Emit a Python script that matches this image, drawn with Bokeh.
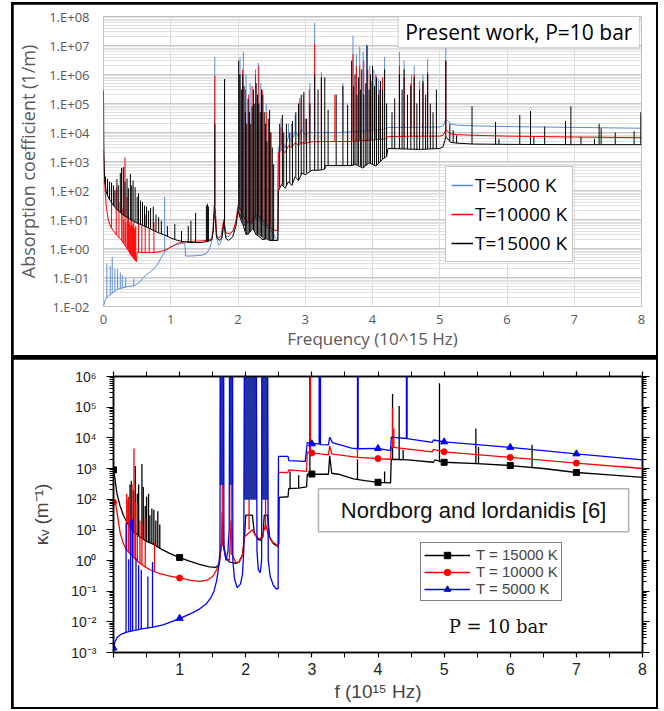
from bokeh.plotting import figure
from bokeh.layouts import column
from bokeh.models import (Range1d, FixedTicker, CustomJSTickFormatter, LinearAxis, LogAxis,
                          Legend, LegendItem, BoxAnnotation, Label)
from bokeh.embed import file_html
from bokeh.resources import INLINE

# ======================= DATA =======================
FREQ_TICKS = [0, 1, 2, 3, 4, 5, 6, 7, 8]
TOP_DECADES = [-2, -1, 0, 1, 2, 3, 4, 5, 6, 7, 8]
BOT_DECADES = [-3, -2, -1, 0, 1, 2, 3, 4, 5, 6]

# ---- top panel (present work), continuum (f [1e15 Hz], k [1/m]) ----
TOP_CONT_5000 = [
    (0.00, 1.0e-2), (0.02, 1.6e-2), (0.06, 2.2e-2), (0.12, 2.8e-2), (0.22, 4.0e-2), (0.35, 4.8e-2),
    (0.47, 5.3e-2), (0.55, 7.5e-2), (0.62, 1.15e-1), (0.70, 1.6e-1), (0.77, 2.2e-1), (0.82, 3.3e-1),
    (0.87, 5.5e-1), (0.92, 8.0e-1), (0.96, 1.0), (1.05, 1.3), (1.16, 1.5), (1.21, 1.5), (1.22, 0.55),
    (1.30, 0.55), (1.40, 0.57), (1.48, 0.60), (1.54, 0.72), (1.58, 1.0), (1.61, 1.8), (1.63, 4.0),
    (1.645, 20), (1.665, 15), (1.68, 2.5), (1.71, 1.3), (1.74, 1.5), (1.77, 3.0), (1.79, 8), (1.82, 2.5),
    (1.86, 2.6), (1.92, 4.0), (1.97, 8), (2.00, 20), (2.05, 12), (2.10, 6), (2.15, 9), (2.20, 7),
    (2.25, 10), (2.30, 12), (2.35, 8), (2.40, 6), (2.45, 5), (2.50, 4), (2.55, 2.5), (2.585, 2.0),
    (2.60, 3.0e3), (2.65, 4.5e3), (2.70, 3.0e3), (2.75, 7e3), (2.80, 5e3), (2.85, 1.1e4), (2.90, 7e3),
    (2.95, 1.3e4), (3.00, 8e3), (3.05, 1.0e4), (3.20, 1.0e4), (3.45, 1.0e4), (3.70, 1.05e4),
    (3.80, 1.1e4), (4.00, 1.2e4), (4.18, 1.3e4), (4.23, 1.5e4), (4.60, 1.5e4), (5.00, 1.55e4),
    (5.05, 1.7e4), (5.09, 2.8e4), (5.12, 2.5e4), (5.16, 2.0e4), (5.25, 1.8e4), (5.50, 1.7e4),
    (6.00, 1.6e4), (7.00, 1.5e4), (8.00, 1.4e4)]
TOP_LINES_5000 = [  # (f, base, peak)
    (0.05, 0.02, 0.3), (0.10, 0.026, 0.25), (0.13, 0.029, 0.5), (0.17, 0.034, 0.2), (0.21, 0.04, 0.2),
    (0.25, 0.043, 0.15), (0.28, 0.045, 0.12), (0.33, 0.047, 0.1), (0.45, 0.053, 0.09), (0.91, 0.75, 60),
    (1.655, 20, 4e6), (1.80, 8, 6e5), (2.03, 20, 4e6), (2.08, 12, 6e6), (2.12, 8, 1e6), (2.18, 8, 5e5),
    (2.26, 10, 1.5e6), (2.30, 12, 2.5e6), (2.34, 8, 5e5), (2.42, 6, 1e5), (2.64, 4.5e3, 3e4),
    (2.75, 7e3, 2e4), (2.85, 1.1e4, 4e4), (2.97, 1.3e4, 2e5), (3.07, 1.0e4, 5e5), (3.14, 1.0e4, 6e7),
    (3.24, 1.0e4, 1.2e6), (3.56, 1.0e4, 5e5), (3.71, 1.05e4, 2.2e7), (3.76, 1.1e4, 5e6),
    (3.81, 1.1e4, 9e6), (3.86, 1.1e4, 6e6), (3.91, 1.15e4, 1.1e7), (3.96, 1.2e4, 2e6),
    (4.02, 1.2e4, 1.5e6), (4.09, 1.25e4, 7e5), (4.18, 1.3e4, 4e6), (4.40, 1.5e4, 6e6),
    (4.47, 1.5e4, 3e6), (4.58, 1.5e4, 1e6), (4.62, 1.5e4, 2e6), (4.70, 1.5e4, 6e5), (4.75, 1.5e4, 1e6),
    (4.82, 1.5e4, 3.5e6), (5.09, 2.8e4, 8e6)]

TOP_CONT_10000 = [
    (0.00, 2.4e3), (0.01, 5e2), (0.02, 1.5e2), (0.04, 30), (0.07, 10), (0.10, 6), (0.15, 4), (0.20, 2.8),
    (0.25, 2.2), (0.30, 1.5), (0.35, 1.0), (0.40, 0.65), (0.45, 0.45), (0.49, 0.35), (0.50, 0.75),
    (0.60, 0.72), (0.70, 0.72), (0.80, 0.75), (0.90, 0.85), (1.00, 1.1), (1.10, 1.5), (1.20, 1.7),
    (1.40, 1.8), (1.55, 1.9), (1.61, 2.2), (1.63, 4), (1.645, 30), (1.665, 20), (1.68, 3), (1.71, 2.3),
    (1.75, 2.8), (1.79, 10), (1.82, 3.5), (1.87, 3.2), (1.93, 4), (1.97, 9), (2.00, 30), (2.05, 20),
    (2.10, 10), (2.15, 8), (2.20, 8), (2.25, 12), (2.30, 15), (2.35, 10), (2.40, 8), (2.45, 6),
    (2.50, 5), (2.55, 4.2), (2.595, 4.2), (2.60, 2.0e3), (2.65, 2.5e3), (2.70, 2.0e3), (2.75, 3.5e3),
    (2.80, 3.0e3), (2.85, 4.5e3), (2.90, 3.5e3), (2.95, 4.5e3), (3.00, 4.2e3), (3.10, 4.8e3),
    (3.30, 4.9e3), (3.70, 4.9e3), (3.80, 5.2e3), (4.00, 5.5e3), (4.18, 6e3), (4.23, 7.2e3),
    (4.60, 7.4e3), (5.00, 7.5e3), (5.05, 8e3), (5.09, 1.2e4), (5.12, 1.1e4), (5.16, 9e3),
    (5.25, 8.5e3), (5.50, 8e3), (6.00, 7.5e3), (7.00, 7.0e3), (8.00, 6.6e3)]
TOP_LINES_10000 = [
    (0.12, 5, 150), (0.19, 3, 120), (0.23, 2.4, 40), (0.27, 2, 600), (0.29, 1.6, 25), (0.32, 1.4, 1.4e3),
    (0.35, 1.0, 60), (0.37, 0.9, 12), (0.39, 0.7, 8), (0.41, 0.62, 10), (0.43, 0.55, 6), (0.45, 0.45, 8),
    (0.47, 0.4, 5), (0.30, 1.5, 10), (0.33, 1.2, 8), (0.36, 0.95, 9), (0.38, 0.8, 7), (0.40, 0.65, 6),
    (0.42, 0.58, 9), (0.44, 0.5, 7), (0.46, 0.42, 5), (0.48, 0.37, 6), (0.52, 0.75, 20), (0.57, 0.73, 6),
    (0.62, 0.72, 15), (0.68, 0.72, 5), (0.75, 0.74, 8), (1.655, 30, 9e5), (1.80, 10, 6e5),
    (2.02, 30, 1e6), (2.07, 20, 1.5e6), (2.11, 10, 3e5), (2.16, 8, 2e5), (2.21, 8, 4e5),
    (2.26, 12, 1e6), (2.31, 15, 2e6), (2.36, 10, 3e5), (2.42, 8, 5e4), (2.48, 6, 1e4),
    (2.64, 2.5e3, 1.5e4), (2.72, 2e3, 8e3), (2.80, 3e3, 2e4), (2.92, 4e3, 1.5e5), (3.00, 4.2e3, 3e4),
    (3.06, 4.5e3, 3e5), (3.14, 4.8e3, 1.2e7), (3.24, 4.9e3, 5e5), (3.44, 4.9e3, 2e5),
    (3.71, 4.9e3, 5e6), (3.76, 5e3, 2e6), (3.81, 5.2e3, 2e6), (3.87, 5.3e3, 3e6), (3.93, 5.4e3, 1.5e6),
    (3.99, 5.5e3, 6e5), (4.05, 5.7e3, 1e6), (4.10, 5.8e3, 3e5), (4.15, 6e3, 8e5), (4.40, 7.3e3, 2e6),
    (4.47, 7.3e3, 8e5), (4.57, 7.4e3, 5e5), (4.62, 7.4e3, 1e6), (4.75, 7.4e3, 5e5),
    (4.82, 7.5e3, 1.2e6), (5.09, 1.2e4, 3e6)]

TOP_CONT_15000 = [
    (0.000, 2.8e5), (0.004, 5e3), (0.01, 6e2), (0.02, 2e2), (0.04, 90), (0.07, 60), (0.10, 45),
    (0.15, 30), (0.20, 22), (0.30, 14), (0.40, 10), (0.50, 7.5), (0.64, 5.5), (0.80, 3.6), (0.90, 3.0),
    (1.00, 2.3), (1.10, 1.9), (1.20, 1.7), (1.30, 1.6), (1.45, 1.6), (1.55, 1.75), (1.61, 2.0),
    (1.63, 4), (1.645, 15), (1.665, 10), (1.68, 2.5), (1.72, 1.9), (1.76, 2.3), (1.79, 8), (1.82, 2.2),
    (1.86, 1.9), (1.92, 2.5), (1.97, 6), (2.00, 20), (2.04, 10), (2.08, 6), (2.12, 3), (2.17, 3.5),
    (2.22, 5), (2.27, 3), (2.32, 2.5), (2.37, 2.0), (2.42, 2.2), (2.47, 1.9), (2.52, 1.9),
    (2.595, 1.9), (2.60, 1.0e2), (2.65, 1.6e2), (2.70, 1.2e2), (2.75, 2e2), (2.80, 1.5e2),
    (2.85, 3e2), (2.90, 2.2e2), (2.95, 4e2), (3.00, 3.5e2), (3.10, 5e2), (3.20, 5e2), (3.29, 5.5e2),
    (3.30, 7.2e2), (3.68, 7.2e2), (3.75, 8e2), (3.85, 6e2), (3.95, 9e2), (4.05, 7e2), (4.15, 1.2e3),
    (4.21, 1.5e3), (4.23, 2.8e3), (4.50, 2.7e3), (4.70, 2.6e3), (5.00, 2.8e3), (5.05, 3.2e3),
    (5.09, 7e3), (5.12, 6e3), (5.16, 4.6e3), (5.25, 4.3e3), (5.50, 4e3), (6.00, 3.9e3),
    (7.00, 3.8e3), (8.00, 3.8e3)]
TOP_LINES_15000 = [
    (0.03, 120, 300), (0.06, 65, 250), (0.09, 48, 200), (0.12, 38, 190), (0.15, 30, 150), (0.17, 27, 100),
    (0.20, 22, 250), (0.22, 20, 150), (0.25, 17, 400), (0.27, 16, 600), (0.30, 14, 650), (0.32, 13, 200),
    (0.35, 12, 260), (0.37, 11, 120), (0.40, 10, 370), (0.42, 9.5, 150), (0.44, 9, 220), (0.47, 8, 130),
    (0.50, 7.5, 60), (0.52, 7.2, 80), (0.55, 6.8, 45), (0.58, 6.3, 40), (0.61, 5.9, 30), (0.64, 5.5, 28),
    (0.67, 5.1, 20), (0.70, 4.7, 25), (0.74, 4.2, 28), (0.78, 3.8, 15), (0.82, 3.5, 12), (0.86, 3.2, 9),
    (0.95, 2.6, 6), (1.06, 2.0, 7), (1.16, 1.8, 4), (1.26, 1.6, 6), (1.30, 1.6, 9), (1.37, 1.6, 17),
    (1.53, 1.7, 30), (1.545, 1.7, 35), (1.56, 1.75, 28), (1.655, 15, 2e4), (1.80, 8, 7e5),
    (2.01, 20, 3e6), (2.03, 12, 1e6), (2.05, 10, 3e5), (2.07, 8, 1e6), (2.09, 6, 4e5), (2.11, 4, 5e4),
    (2.13, 3, 2e4), (2.15, 3, 1.5e5), (2.17, 3.5, 5e4), (2.19, 4, 2e4), (2.21, 5, 8e4), (2.23, 4.5, 3e5),
    (2.25, 4, 1e5), (2.27, 3, 5e5), (2.29, 3, 2e5), (2.31, 2.8, 1e5), (2.33, 2.6, 5e4), (2.35, 2.5, 3e5),
    (2.37, 2.2, 2e5), (2.39, 2.1, 5e4), (2.41, 2.1, 2e4), (2.43, 2.2, 5e3), (2.45, 2.1, 3e4),
    (2.47, 1.9, 6e4), (2.49, 1.9, 1e4), (2.51, 1.9, 3e3), (2.53, 1.9, 8e2), (2.62, 1.3e2, 2e4),
    (2.66, 1.6e2, 4e4), (2.68, 1.4e2, 1e4), (2.72, 1.4e2, 2e4), (2.77, 1.8e2, 1e4), (2.81, 1.6e2, 2.5e4),
    (2.86, 3e2, 5e4), (2.90, 2.2e2, 1e5), (2.94, 3.5e2, 2e5), (2.98, 3.8e2, 2.5e5), (3.02, 4e2, 3e4),
    (3.07, 4.5e2, 1e5), (3.14, 5e2, 1e6), (3.19, 5e2, 3e5), (3.24, 5e2, 8e5), (3.29, 5.5e2, 8e5),
    (3.34, 7.2e2, 6e4), (3.46, 7.2e2, 2e5), (3.56, 7.2e2, 4e5), (3.63, 7.2e2, 9e4), (3.69, 7.2e2, 3e6),
    (3.72, 7.5e2, 4e5), (3.74, 7.8e2, 1e6), (3.77, 8e2, 2e5), (3.79, 7.5e2, 8e5), (3.82, 7e2, 3e5),
    (3.84, 6.5e2, 1.5e6), (3.87, 6e2, 2e5), (3.90, 7e2, 5e5), (3.92, 8e2, 1e7), (3.95, 9e2, 3e5),
    (3.97, 8.5e2, 1e6), (4.00, 8e2, 2e6), (4.03, 7.5e2, 4e5), (4.06, 7.5e2, 8e5), (4.09, 9e2, 2e5),
    (4.12, 1.0e3, 6e5), (4.15, 1.2e3, 3e5), (4.18, 1.3e3, 1.5e6), (4.21, 1.5e3, 1e5),
    (4.29, 2.8e3, 5e4), (4.33, 2.8e3, 1.5e5), (4.40, 2.7e3, 1e6), (4.44, 2.7e3, 3e5),
    (4.47, 2.7e3, 1.5e6), (4.52, 2.7e3, 2e5), (4.57, 2.6e3, 4e5), (4.62, 2.6e3, 8e5),
    (4.66, 2.6e3, 1e5), (4.70, 2.6e3, 3e5), (4.75, 2.6e3, 6e5), (4.79, 2.7e3, 2e5), (4.82, 2.7e3, 1e6),
    (4.86, 2.7e3, 1e5), (4.90, 2.7e3, 5e4), (4.95, 2.8e3, 3e5), (5.09, 7e3, 3e6), (5.15, 5e3, 2e4),
    (5.20, 4.5e3, 1.2e4), (5.25, 4.3e3, 8e3), (5.48, 4e3, 8e4), (5.83, 3.9e3, 2.3e4),
    (5.88, 3.9e3, 6e3), (6.19, 3.9e3, 4e4), (6.35, 3.9e3, 5.5e4), (6.40, 3.9e3, 7e3),
    (6.56, 3.8e3, 1.6e4), (6.87, 3.8e3, 2.5e4), (6.95, 3.8e3, 8e4), (7.10, 3.8e3, 7e3),
    (7.30, 3.8e3, 6e3), (7.37, 3.8e3, 2e4), (7.40, 3.8e3, 1.4e4), (7.61, 3.8e3, 1e4),
    (7.89, 3.8e3, 1.1e4), (7.99, 3.8e3, 5e4)]

# ---- bottom panel (Nordborg and Iordanidis) ----
BOT_CONT_15000 = [
    (0.00, 9e2), (0.02, 5e2), (0.05, 1.6e2), (0.10, 60), (0.15, 30), (0.20, 18), (0.28, 10), (0.38, 6.3),
    (0.50, 4.2), (0.60, 3.4), (0.73, 2.3), (0.85, 1.7), (1.00, 1.25), (1.15, 0.95), (1.30, 0.75),
    (1.45, 0.62), (1.55, 0.6), (1.60, 0.75), (1.62, 2), (1.64, 5), (1.66, 3), (1.70, 1.2), (1.75, 0.9),
    (1.80, 0.85), (1.85, 0.8), (1.90, 0.9), (1.95, 1.5), (1.98, 5), (2.00, 30), (2.10, 30), (2.13, 8),
    (2.18, 5), (2.22, 4.5), (2.26, 6), (2.28, 30), (2.33, 30), (2.36, 6), (2.42, 3.5), (2.47, 3.0),
    (2.50, 3.5), (2.505, 1.15e2), (2.64, 1.2e2), (2.65, 2.2e2), (2.80, 2.3e2), (2.92, 2.5e2),
    (2.93, 6.5e2), (3.13, 6.6e2), (3.25, 6.5e2), (3.27, 2.6e3), (3.30, 7e2), (3.40, 6.5e2),
    (3.63, 4.6e2), (3.80, 4.0e2), (4.00, 3.55e2), (4.19, 3.4e2), (4.20, 2.0e3), (4.45, 1.9e3),
    (4.84, 1.6e3), (4.86, 1.9e3), (5.00, 1.6e3), (5.50, 1.45e3), (6.00, 1.25e3), (6.50, 1.0e3),
    (7.00, 7.4e2), (7.50, 6.2e2), (8.00, 5.1e2)]
BOT_LINES_15000 = [
    (0.22, 15, 100), (0.25, 12, 300), (0.27, 11, 400), (0.30, 9, 200), (0.33, 8, 1.2e3), (0.36, 7, 150),
    (0.38, 6.3, 300), (0.43, 5.4, 1.4e3), (0.45, 5, 250), (0.48, 4.6, 60), (0.50, 4.2, 120),
    (0.53, 4.0, 150), (0.55, 3.8, 30), (0.58, 3.5, 50), (0.61, 3.3, 45), (0.64, 3.0, 20),
    (0.67, 2.8, 40), (0.70, 2.5, 15), (2.67, 2.2e2, 8e2), (2.80, 2.3e2, 6e2), (2.97, 6.5e2, 1e7),
    (3.69, 4.5e2, 2e3), (4.10, 3.5e2, 8e2), (4.22, 2.0e3, 2.7e5), (4.32, 2.0e3, 1.1e5),
    (4.38, 2.0e3, 4e3), (4.93, 1.6e3, 6e5), (5.48, 1.45e3, 2e4), (5.52, 1.45e3, 5e3),
    (6.33, 1.1e3, 6e3)]

BOT_CONT_10000 = [
    (0.00, 80), (0.03, 75), (0.06, 30), (0.10, 8), (0.15, 3.5), (0.20, 2.2), (0.30, 1.3), (0.40, 0.8),
    (0.55, 0.5), (0.70, 0.37), (0.85, 0.31), (1.00, 0.27), (1.15, 0.23), (1.30, 0.21), (1.42, 0.23),
    (1.50, 0.3), (1.56, 0.5), (1.60, 0.9), (1.63, 3), (1.645, 40), (1.67, 3), (1.70, 1.2), (1.75, 1.0),
    (1.78, 20), (1.80, 1.5), (1.85, 0.85), (1.90, 0.9), (1.95, 1.5), (1.98, 6), (2.10, 10), (2.14, 7),
    (2.20, 5), (2.25, 6), (2.30, 15), (2.35, 6), (2.40, 4), (2.45, 3.5), (2.49, 2.8), (2.495, 7.4e2),
    (2.64, 7.5e2), (2.65, 9e2), (2.92, 8e2), (2.93, 3.5e3), (2.97, 3.3e3), (3.13, 3.0e3),
    (3.25, 2.8e3), (3.27, 5.5e3), (3.30, 3.0e3), (3.69, 2.3e3), (4.00, 2.1e3), (4.19, 2.0e3),
    (4.20, 5.0e3), (4.82, 3.5e3), (4.84, 4.2e3), (5.00, 3.5e3), (6.00, 2.3e3), (7.00, 1.5e3),
    (8.00, 1.0e3)]
BOT_LINES_10000 = [
    (0.20, 2.2, 150), (0.23, 1.8, 120), (0.25, 1.6, 25), (0.28, 1.4, 300), (0.31, 1.25, 4.5e3),
    (0.33, 1.1, 80), (0.36, 0.95, 80), (0.40, 0.8, 20), (0.43, 0.7, 15), (0.48, 0.6, 25),
    (0.62, 0.42, 4), (1.645, 3, 2e5), (1.78, 1.5, 5e4), (2.05, 10, 1e6), (2.30, 10, 1e5),
    (2.98, 3.3e3, 1e7), (3.69, 2.3e3, 5e3), (4.22, 5e3, 9e4), (4.24, 5e3, 2e4)]

BOT_CONT_5000 = [
    (0.00, 1.4e-3), (0.02, 2.2e-3), (0.06, 3.2e-3), (0.12, 4.0e-3), (0.20, 4.6e-3), (0.30, 5.2e-3),
    (0.45, 6.0e-3), (0.60, 6.7e-3), (0.75, 8.0e-3), (0.90, 1.05e-2), (1.00, 1.3e-2), (1.10, 1.6e-2),
    (1.20, 2.0e-2), (1.30, 2.6e-2), (1.40, 3.8e-2), (1.47, 6.0e-2), (1.52, 1.0e-1), (1.56, 2.2e-1),
    (1.59, 6e-1), (1.61, 2.0), (1.615, 1e7), (1.665, 1e7), (1.67, 3), (1.70, 1.0), (1.73, 2.0),
    (1.75, 10), (1.755, 1e7), (1.80, 1e7), (1.805, 1.0), (1.83, 0.25), (1.87, 0.13), (1.92, 0.17),
    (1.95, 0.35), (1.97, 2.0), (1.98, 1e7), (2.16, 1e7), (2.17, 2.0), (2.19, 0.5), (2.22, 0.4),
    (2.24, 1.0), (2.245, 1e7), (2.33, 1e7), (2.34, 1.0), (2.37, 0.3), (2.42, 0.15), (2.46, 0.12),
    (2.49, 0.12), (2.495, 2.5e3), (2.64, 2.5e3), (2.65, 1.8e3), (2.90, 1.7e3), (2.93, 7e3),
    (3.11, 6.2e3), (3.11, 1e7), (3.13, 1e7), (3.13, 6e3), (3.25, 5.9e3), (3.27, 1.05e4), (3.31, 7e3),
    (3.60, 4.6e3), (3.69, 4.4e3), (3.69, 1e7), (3.70, 1e7), (3.70, 4.4e3), (4.00, 4.5e3),
    (4.19, 3.8e3), (4.20, 1.05e4), (4.43, 9.5e3), (4.43, 1e7), (4.44, 1e7), (4.44, 9.4e3),
    (4.82, 7.1e3), (4.84, 8.5e3), (5.00, 7.4e3), (6.00, 4.9e3), (7.00, 3.0e3), (8.00, 1.9e3)]
BOT_LINES_5000 = [
    (0.19, 4.5e-3, 17), (0.23, 4.8e-3, 1.1), (0.26, 5.0e-3, 20), (0.29, 5.2e-3, 22), (0.34, 5.5e-3, 1.2),
    (0.38, 5.7e-3, 0.7), (0.42, 5.8e-3, 0.5), (0.52, 6.2e-3, 0.3), (0.59, 6.6e-3, 0.9)]
BOT_BANDS_5000 = [  # (f start, f end, lower edge of the dense-line block)
    (1.615, 1.665, 3e2), (1.755, 1.80, 3e2), (1.98, 2.16, 1e2), (2.245, 2.33, 1e2)]

# markers (f, k)
BOT_MARK_15000 = [(0, 9e2), (1, 1.25), (3, 6.6e2), (4, 3.55e2), (5, 1.6e3), (6, 1.25e3), (7, 7.4e2)]
BOT_MARK_10000 = [(0, 80), (1, 0.27), (3, 3.2e3), (4, 2.1e3), (5, 3.5e3), (6, 2.3e3), (7, 1.5e3)]
BOT_MARK_5000 = [(0, 1.4e-3), (1, 1.3e-2), (3, 6.4e3), (4, 4.5e3), (5, 7.4e3), (6, 4.9e3), (7, 3.0e3)]

# ======================= helpers =======================
NAN = float("nan")

def split2(pairs):
    a, b = zip(*pairs)
    return list(a), list(b)

def split3(trip):
    a, b, c = zip(*trip)
    return list(a), list(b), list(c)

def draw(p, cont, lines, color, lw):
    f, k = split2(cont)
    r = p.line(f, k, line_color=color, line_width=lw)
    lf, lb, lp = split3(lines)
    p.segment(x0=lf, y0=lb, x1=lf, y1=lp, line_color=color, line_width=lw)
    return r

EXCEL_FMT = CustomJSTickFormatter(code="""
const e = Math.round(Math.log10(tick));
const a = Math.abs(e);
return '1.E' + (e < 0 ? '-' : '+') + (a < 10 ? '0' : '') + a;
""")
SUP_FMT = CustomJSTickFormatter(code="""
const sup = {'-':'\\u207B','0':'\\u2070','1':'\\u00B9','2':'\\u00B2','3':'\\u00B3','4':'\\u2074',
             '5':'\\u2075','6':'\\u2076','7':'\\u2077','8':'\\u2078','9':'\\u2079'};
const e = Math.round(Math.log10(tick));
return '10' + String(e).split('').map(c => sup[c]).join('');
""")
BLANK_FMT = CustomJSTickFormatter(code="return '';")

# ======================= TOP PANEL =======================
GRAY = "#595959"
FONT_T = "Open Sans"
W1, H1 = 643, 351
p1 = figure(width=W1, height=H1, y_axis_type="log", x_range=Range1d(0, 8),
            y_range=Range1d(1e-2, 1e8), output_backend="svg", toolbar_location=None,
            min_border_left=89, min_border_right=15, min_border_top=12, min_border_bottom=49)
p1.outline_line_color = None
p1.border_fill_color = "white"

top_major = [10.0 ** e for e in TOP_DECADES]
top_minor = [m * 10.0 ** e for e in TOP_DECADES[:-1] for m in range(2, 10)]
p1.yaxis.ticker = FixedTicker(ticks=top_major, minor_ticks=top_minor)
p1.yaxis.formatter = EXCEL_FMT
p1.xaxis.ticker = FixedTicker(ticks=FREQ_TICKS)
p1.xgrid.grid_line_color = "#d9d9d9"
p1.ygrid.grid_line_color = "#c8c8c8"
p1.ygrid.minor_grid_line_color = "#e0e0e0"
ax_l, ax_b = p1.left[0], p1.below[0]
for ax in (ax_l, ax_b):
    ax.axis_line_color = None
    ax.major_tick_line_color = None
    ax.minor_tick_line_color = None
    ax.major_tick_out = 0
    ax.minor_tick_out = 0
    ax.major_label_text_font = FONT_T
    ax.major_label_text_font_size = "13px"
    ax.major_label_text_color = GRAY
    ax.axis_label_text_font = FONT_T
    ax.axis_label_text_font_style = "normal"
    ax.axis_label_text_color = GRAY
ax_l.axis_label = "Absorption coefficient (1/m)"
ax_l.axis_label_text_font_size = "18px"
ax_l.major_label_standoff = 14
ax_l.axis_label_standoff = 6
ax_b.axis_label = "Frequency (10^15 Hz)"
ax_b.axis_label_text_font_size = "17px"
ax_b.major_label_standoff = 8
ax_b.axis_label_standoff = 0

TOP_COLORS = {"5000": "#5a8bd5", "10000": "#ff0000", "15000": "#000000"}
draw(p1, TOP_CONT_5000, TOP_LINES_5000, TOP_COLORS["5000"], 1)
draw(p1, TOP_CONT_10000, TOP_LINES_10000, TOP_COLORS["10000"], 1)
draw(p1, TOP_CONT_15000, TOP_LINES_15000, TOP_COLORS["15000"], 1)
# legend keys: renderers with no visible points, only carrying the key style
k5 = p1.line([NAN, NAN], [NAN, NAN], line_color=TOP_COLORS["5000"], line_width=1.5)
k10 = p1.line([NAN, NAN], [NAN, NAN], line_color=TOP_COLORS["10000"], line_width=1.5)
k15 = p1.line([NAN, NAN], [NAN, NAN], line_color=TOP_COLORS["15000"], line_width=1.5)

leg1 = Legend(items=[LegendItem(label="T=5000 K", renderers=[k5]),
                     LegendItem(label="T=10000 K", renderers=[k10]),
                     LegendItem(label="T=15000 K", renderers=[k15])],
              location=(342, 44), label_text_font=FONT_T, label_text_font_size="19px",
              label_text_color="#000000", glyph_width=22, glyph_height=22, label_height=22,
              label_standoff=2, spacing=3, padding=5, margin=0,
              border_line_color="#8c8c8c", border_line_width=1, background_fill_alpha=1)
p1.add_layout(leg1)

p1.add_layout(BoxAnnotation(left=4.38, right=7.97, bottom=8.5e6, top=1.0e8, fill_color="white",
                            fill_alpha=1, line_color="#7f7f7f", line_width=1.2))
p1.add_layout(Label(x=6.175, y=2.9e7, text="Present work, P=10 bar", text_align="center",
                    text_baseline="middle", text_font=FONT_T, text_font_size="21px",
                    text_color="#000000"))

# ======================= BOTTOM PANEL =======================
FONT_B = "Liberation Sans"
W2, H2 = 643, 348
p2 = figure(width=W2, height=H2, y_axis_type="log", x_range=Range1d(0, 8),
            y_range=Range1d(1e-3, 1e6), output_backend="svg", toolbar_location=None,
            min_border_left=100, min_border_right=14, min_border_top=17, min_border_bottom=55)
p2.grid.visible = False
p2.outline_line_color = "black"
p2.outline_line_width = 1.5
p2.border_fill_color = "white"

bot_major = [10.0 ** e for e in BOT_DECADES]
bot_minor = [m * 10.0 ** e for e in BOT_DECADES[:-1] for m in range(2, 10)]
half_ticks = [t + 0.5 for t in FREQ_TICKS[:-1]]
y_ticker = FixedTicker(ticks=bot_major, minor_ticks=bot_minor)
x_ticker = FixedTicker(ticks=FREQ_TICKS, minor_ticks=half_ticks)

bx, ly = p2.below[0], p2.left[0]
bx.ticker = x_ticker
bx.major_label_overrides = {0: ""}
ly.ticker = y_ticker
ly.formatter = SUP_FMT
tx = LinearAxis(ticker=x_ticker, formatter=BLANK_FMT)
ry = LogAxis(ticker=y_ticker, formatter=BLANK_FMT)
p2.add_layout(tx, "above")
p2.add_layout(ry, "right")
for ax in (bx, ly, tx, ry):
    ax.axis_line_width = 1.5
    ax.major_tick_line_width = 1.2
    ax.minor_tick_line_width = 1
    ax.major_label_text_font = FONT_B
    ax.axis_label_text_font = FONT_B
    ax.axis_label_text_font_style = "normal"
    ax.axis_label_text_font_size = "19px"
    ax.major_label_text_color = "#222222"
for ax in (bx, tx):
    ax.major_tick_in = 0
    ax.major_tick_out = 5
    ax.minor_tick_in = 0
    ax.minor_tick_out = 5
for ax in (ly, ry):
    ax.major_tick_in = 0
    ax.major_tick_out = 7
    ax.minor_tick_in = 0
    ax.minor_tick_out = 4
bx.major_label_text_font_size = "16px"
bx.major_label_standoff = 5
bx.axis_label = "f (10\u00b9\u2075 Hz)"
bx.axis_label_standoff = 3
ly.major_label_text_font_size = "14px"
ly.major_label_standoff = 10
ly.axis_label = "\u03ba\u1d65 (m\u207b\u00b9)"
ly.axis_label_standoff = 16

BLUE_B = "#0000ff"
b15 = draw(p2, BOT_CONT_15000, BOT_LINES_15000, "#000000", 1.3)
b10 = draw(p2, BOT_CONT_10000, BOT_LINES_10000, "#ff0000", 1.3)
bl, br, bb = split3(BOT_BANDS_5000)
p2.quad(left=bl, right=br, bottom=bb, top=[p2.y_range.end * 10] * len(bl),
        fill_color="#2233a0", line_color="#2233a0", line_width=1)
b5 = draw(p2, BOT_CONT_5000, BOT_LINES_5000, BLUE_B, 1.3)

mf, mk = split2(BOT_MARK_15000)
m15 = p2.scatter(mf, mk, marker="square", size=6, color="#000000")
mf, mk = split2(BOT_MARK_10000)
m10 = p2.scatter(mf, mk, marker="circle", size=6, color="#ff0000")
mf, mk = split2(BOT_MARK_5000)
m5 = p2.scatter(mf, mk, marker="triangle", size=7, color=BLUE_B)

leg2 = Legend(items=[LegendItem(label="T = 15000 K", renderers=[b15, m15]),
                     LegendItem(label="T = 10000 K", renderers=[b10, m10]),
                     LegendItem(label="T = 5000 K", renderers=[b5, m5])],
              location=(307, 51), label_text_font=FONT_B, label_text_font_size="15px",
              glyph_width=46, glyph_height=16, label_height=16, label_standoff=6, spacing=0,
              padding=3, margin=0, border_line_color="black", border_line_width=1.2)
p2.add_layout(leg2)

p2.add_layout(BoxAnnotation(left=3.10, right=7.79, bottom=8.6, top=2.19e2, fill_color="white",
                            fill_alpha=1, line_color="black", line_width=1.5))
p2.add_layout(Label(x=5.445, y=43.6, text="Nordborg and lordanidis [6]", text_align="center",
                    text_baseline="middle", text_font=FONT_B, text_font_size="22px",
                    text_color="#111111"))
p2.add_layout(Label(x=5.81, y=7.2e-3, text="P = 10 bar", text_align="center",
                    text_baseline="middle", text_font="DejaVu Serif", text_font_size="18px",
                    text_color="#111111"))

# two independent roots (so plot frames are not aligned to each other), each framed by a
# black backdrop with a 2px rim
top_box = column(p1, margin=(2, 0, 0, 11), styles={"background-color": "black", "padding": "2px"})
bot_box = column(p2, margin=(0, 0, 0, 11), styles={"background-color": "black", "padding": "2px"})
open("out.html", "w", encoding="utf-8").write(file_html([top_box, bot_box], INLINE))
